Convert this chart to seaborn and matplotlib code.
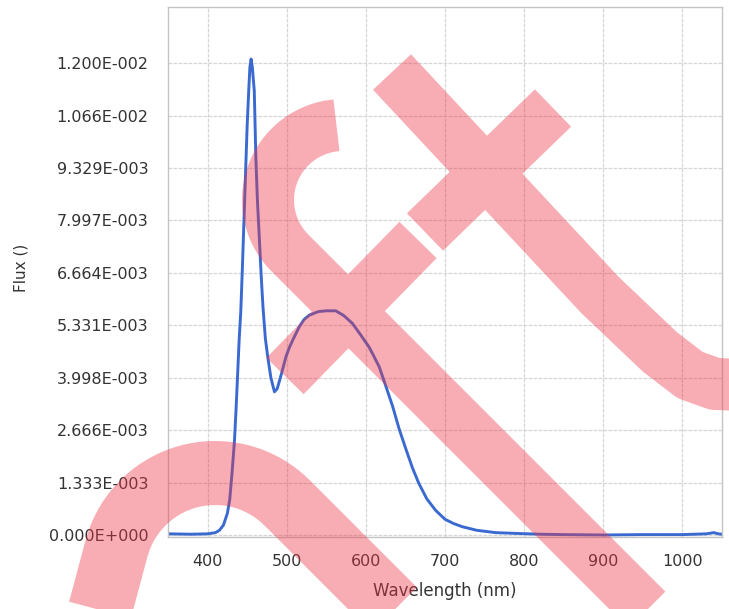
import numpy as np
import pandas as pd
import matplotlib
matplotlib.use("Agg")
import matplotlib.pyplot as plt
from matplotlib.lines import Line2D
import seaborn as sns

# spectrum
wavelength = [350, 380, 400, 410, 415, 420, 425, 428, 431, 434, 436, 438, 440,
              442, 444, 446, 448, 450, 452, 453.5, 455, 456.5, 459, 461, 463,
              465.5, 468, 470, 473, 476, 480, 484.5, 488, 492, 496, 499, 503,
              507.5, 516, 522, 528.6, 540, 550, 562, 572, 583, 593, 604, 610,
              617, 625, 634, 642, 651, 659, 667, 677, 688, 700, 711, 722, 740,
              764, 790, 820, 850, 900, 950, 1000, 1030, 1040, 1045, 1050]
flux = [0.00003, 0.00002, 0.00003, 0.00006, 0.00012, 0.00025, 0.00055, 0.0009,
        0.0016, 0.0024, 0.0032, 0.0041, 0.0050, 0.0057, 0.0068, 0.0080, 0.0092,
        0.0104, 0.0113, 0.0119, 0.0121, 0.0119, 0.0113, 0.0096, 0.0085,
        0.0075, 0.0065, 0.0058, 0.0050, 0.00453, 0.0040, 0.00364, 0.00372,
        0.0040, 0.0043, 0.00453, 0.00475, 0.00495, 0.0053, 0.00548, 0.00559,
        0.00568, 0.0057, 0.0057, 0.00558, 0.00538, 0.0051, 0.00478, 0.00455,
        0.00427, 0.0038, 0.00326, 0.0027, 0.00216, 0.0017, 0.00131, 0.00092,
        0.00063, 0.0004, 0.00029, 0.00021, 0.00012, 0.00006, 0.00004, 0.00002,
        0.00001, 0.0, 0.00001, 0.00001, 0.00003, 0.00006, 0.00003, 0.00002]

x_ticks = [400, 500, 600, 700, 800, 900, 1000]
y_tick_labels = ["0.000E+000", "1.333E-003", "2.666E-003", "3.998E-003",
                 "5.331E-003", "6.664E-003", "7.997E-003", "9.329E-003",
                 "1.066E-002", "1.200E-002"]
y_ticks = [float(s) for s in y_tick_labels]

df = pd.DataFrame({"Wavelength": wavelength, "Flux": flux})

sns.set_theme(style="whitegrid")
plt.rcParams["font.family"] = ["DejaVu Sans"]

W, H = 729, 609
fig = plt.figure(figsize=(W / 100, H / 100), dpi=100)
ax = fig.add_axes([168 / W, 1 - 537 / H, (722 - 168) / W, (537 - 7) / H])

sns.lineplot(data=df, x="Wavelength", y="Flux", ax=ax, color="#3a6ad0",
             linewidth=2.1, sort=False)

ax.set_xlim(350, 1050)
ax.set_ylim(-0.0000508, 0.013424)
ax.set_xticks(x_ticks)
ax.set_yticks(y_ticks)
ax.set_yticklabels(y_tick_labels)
ax.tick_params(axis="both", length=0, labelsize=11.5, colors="#333333")
ax.tick_params(axis="y", pad=14)
ax.tick_params(axis="x", pad=12)

# light grey grid like the original software
ax.grid(True, color="#d6d6d6", linestyle=(0, (3, 1)), linewidth=0.9)
for sp in ax.spines.values():
    sp.set_color("#c4c4c4")
    sp.set_linewidth(1.0)
    sp.set_visible(True)

ax.set_xlabel("Wavelength (nm)", fontsize=12, color="#333333")
ax.set_ylabel("Flux ()", fontsize=11, color="#333333")
ax.xaxis.set_label_coords(0.5, -0.085)
ax.yaxis.set_label_coords(-0.251, 0.507)


# red watermark laid over the chart (pixel positions of the picture)
def px(points):
    pts = np.asarray(points, dtype=float)
    return pts[:, 0] / W, 1 - pts[:, 1] / H


def arc(cx, cy, r, a0, a1, n=40):
    t = np.radians(np.linspace(a0, a1, n))
    return np.column_stack([cx + r * np.cos(t), cy - r * np.sin(t)])


gap = np.array([[np.nan, np.nan]])
stroke_a = np.array([[392, 72], [600, 295], [660, 352], [690, 375],
                     [715, 384], [745, 385]])
stroke_b = np.array([[553, 108], [425, 232]])
stroke_d = np.array([[418, 240], [285, 376]])
c_arc = arc(343, 200, 75, 95, 225)
stroke_c = np.vstack([c_arc, c_arc[-1] + [380, 380]])
group1 = np.vstack([stroke_a, gap, stroke_b, gap, stroke_d, gap, stroke_c])

n_arc = arc(215, 575, 102, 165, 45)
left_leg = n_arc[0] + np.array([-0.268, 1.0]) * 90
right_leg = n_arc[-1] + np.array([1.0, 1.0]) * 160
group2 = np.vstack([left_leg, n_arc, right_leg])

for pts, width in [(group1, 52), (group2, 64)]:
    xs, ys = px(pts)
    fig.add_artist(Line2D(xs, ys, transform=fig.transFigure, color="#ee3344",
                          alpha=0.4, linewidth=width * 0.72,
                          solid_capstyle="butt", solid_joinstyle="round",
                          zorder=10))

fig.savefig("out.png", dpi=100)
